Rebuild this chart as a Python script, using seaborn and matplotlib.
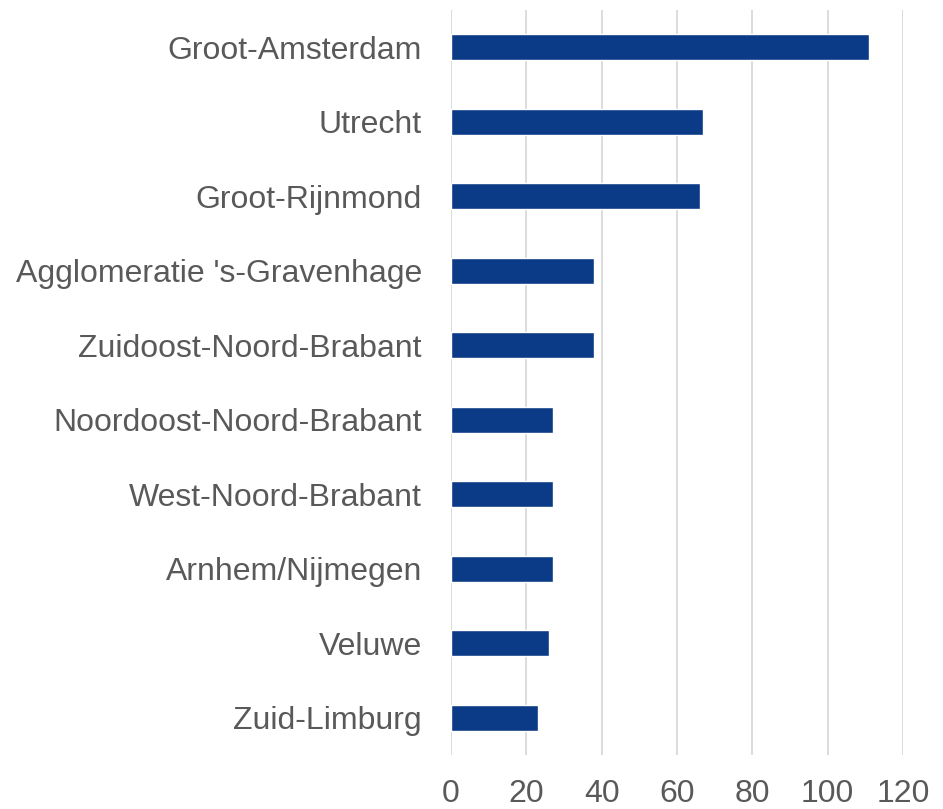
import matplotlib
matplotlib.use("Agg")
import matplotlib.pyplot as plt
import seaborn as sns
import pandas as pd

# regions and counts
regions = ["Groot-Amsterdam", "Utrecht", "Groot-Rijnmond", "Agglomeratie 's-Gravenhage",
           "Zuidoost-Noord-Brabant", "Noordoost-Noord-Brabant", "West-Noord-Brabant",
           "Arnhem/Nijmegen", "Veluwe", "Zuid-Limburg"]
counts = [111, 67, 66, 38, 38, 27, 27, 27, 26, 23]
xticks = [0, 20, 40, 60, 80, 100, 120]

df = pd.DataFrame({"region": regions, "count": counts})

sns.set_style("white")
plt.rcParams["font.family"] = ["Liberation Sans", "DejaVu Sans"]

fig = plt.figure(figsize=(9.43, 8.09), dpi=100)
ax = fig.add_axes([0.4783, 0.0667, 0.4793, 0.9209])

sns.barplot(data=df, x="count", y="region", color="#0B3B87", width=0.35,
            saturation=1, ax=ax, zorder=3)

ax.set_xlim(0, 120)
ax.set_ylim(9.5, -0.5)
ax.set_xticks(xticks)
ax.xaxis.grid(True, color="#D9D9D9", linewidth=1.3, zorder=0)
ax.set_axisbelow(True)
for s in ax.spines.values():
    s.set_visible(False)
ax.tick_params(axis="both", length=0, labelsize=23, labelcolor="#595959")
ax.tick_params(axis="x", pad=17)
ax.tick_params(axis="y", pad=21)
ax.set_xlabel("")
ax.set_ylabel("")

fig.savefig("out.png", dpi=100)
